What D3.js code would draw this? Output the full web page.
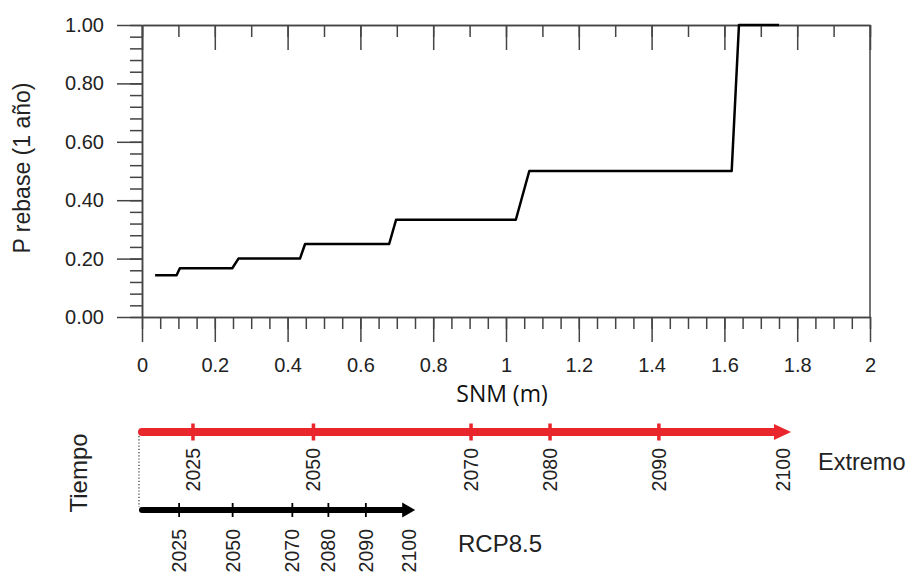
<!DOCTYPE html>
<html>
<head>
<meta charset="utf-8">
<script src="https://cdn.jsdelivr.net/npm/d3@7"></script>
<style>
  body { margin: 0; background: #fff; }
  svg { display: block; font-family: "Liberation Sans", Arial, sans-serif; }
  .axis path, .axis line { stroke: #444; stroke-width: 1.5; }
  .axis text { font-size: 20px; fill: #222; font-family: "Liberation Sans", Arial, sans-serif; }
</style>
</head>
<body>
<svg width="908" height="573"></svg>
<script>
// step curve: SNM (m) vs P rebase (1 año)
var snm  = [0.036, 0.095, 0.104, 0.248, 0.265, 0.434, 0.448, 0.679, 0.698, 1.027, 1.064, 1.620, 1.640, 1.750];
var prob = [0.143, 0.143, 0.167, 0.167, 0.200, 0.200, 0.250, 0.250, 0.333, 0.333, 0.500, 0.500, 1.000, 1.000];

var xTicks = [0, 0.2, 0.4, 0.6, 0.8, 1, 1.2, 1.4, 1.6, 1.8, 2];
var yTicks = [0, 0.2, 0.4, 0.6, 0.8, 1];

// time lines: year -> sea level reached (SNM, m)
var extremoYears = [2025, 2050, 2070, 2080, 2090, 2100];
var extremoSNM   = [0.140, 0.471, 0.904, 1.121, 1.420, 1.761];
var rcpYears     = [2025, 2050, 2070, 2080, 2090, 2100];
var rcpSNM       = [0.102, 0.249, 0.413, 0.512, 0.615, 0.734];

var svg = d3.select("svg"),
    plotL = 142, plotR = 870, plotT = 25, plotB = 317;

var x = d3.scaleLinear().domain([0, 2]).range([plotL, plotR]);
var y = d3.scaleLinear().domain([0, 1]).range([plotB, plotT]);

var fmtX = d3.format("~g");

// minor ticks first so majors draw on top
svg.append("g").attr("class", "axis")
  .attr("transform", "translate(" + plotL + ",0)")
  .call(d3.axisLeft(y).tickValues(d3.range(0, 1.001, 0.04)).tickSize(12).tickSizeOuter(0).tickFormat(""));

svg.append("g").attr("class", "axis")
  .attr("transform", "translate(" + plotL + ",0)")
  .call(d3.axisLeft(y).tickValues(yTicks).tickSize(25).tickSizeOuter(0).tickPadding(13).tickFormat(d3.format(".2f")));

svg.append("g").attr("class", "axis")
  .attr("transform", "translate(0," + plotB + ")")
  .call(d3.axisBottom(x).tickValues(d3.range(0, 2.001, 0.05)).tickSize(12).tickSizeOuter(0).tickFormat(""));

svg.append("g").attr("class", "axis")
  .attr("transform", "translate(0," + plotB + ")")
  .call(d3.axisBottom(x).tickValues(xTicks).tickSize(25).tickSizeOuter(0).tickPadding(16).tickFormat(fmtX));

// top axis, ticks pointing inward
svg.append("g").attr("class", "axis")
  .attr("transform", "translate(0," + plotT + ")")
  .call(d3.axisBottom(x).tickValues(d3.range(0, 2.001, 0.1)).tickSize(12).tickSizeOuter(0).tickFormat(""));
svg.append("g").attr("class", "axis")
  .attr("transform", "translate(0," + plotT + ")")
  .call(d3.axisBottom(x).tickValues(xTicks).tickSize(25).tickSizeOuter(0).tickFormat(""));

// right frame
svg.append("line")
  .attr("x1", plotR).attr("x2", plotR).attr("y1", plotT).attr("y2", plotB)
  .attr("stroke", "#444").attr("stroke-width", 1.5);

// the step curve
var line = d3.line()
  .x(function(d, i) { return x(snm[i]); })
  .y(function(d, i) { return y(prob[i]); });

svg.append("path")
  .attr("d", line(snm))
  .attr("fill", "none")
  .attr("stroke", "#000")
  .attr("stroke-width", 2.5)
  .attr("stroke-linejoin", "round");

// axis titles
svg.append("text")
  .attr("transform", "translate(30,168) rotate(-90)")
  .attr("text-anchor", "middle")
  .attr("font-size", 23)
  .attr("fill", "#222")
  .text("P rebase (1 año)");

svg.append("text")
  .attr("x", 502).attr("y", 402)
  .attr("text-anchor", "middle")
  .attr("font-family", "'Open Sans', sans-serif")
  .attr("font-size", 23)
  .attr("fill", "#111")
  .text("SNM (m)");

// ---- timelines ----
function timeline(years, vals, cfg) {
  var g = svg.append("g");
  var xEnd = x(vals[vals.length - 1]);
  g.append("line")
    .attr("x1", x(0)).attr("x2", xEnd - cfg.head)
    .attr("y1", cfg.y).attr("y2", cfg.y)
    .attr("stroke", cfg.color).attr("stroke-width", cfg.width)
    .attr("stroke-linecap", "round");
  g.append("path")
    .attr("d", "M" + (xEnd - cfg.head - 1) + "," + (cfg.y - cfg.hh) +
               "L" + (xEnd + cfg.head) + "," + cfg.y +
               "L" + (xEnd - cfg.head - 1) + "," + (cfg.y + cfg.hh) + "Z")
    .attr("fill", cfg.color);
  g.selectAll(".tk")
    .data(vals.slice(0, -1))
    .enter().append("line")
      .attr("x1", function(d) { return x(d); })
      .attr("x2", function(d) { return x(d); })
      .attr("y1", cfg.y - cfg.tick).attr("y2", cfg.y + cfg.tick)
      .attr("stroke", cfg.color).attr("stroke-width", cfg.tickW);
  g.selectAll(".lb")
    .data(years)
    .enter().append("text")
      .attr("transform", function(d, i) { return "translate(" + x(vals[i]) + "," + cfg.labelY + ") rotate(-90)"; })
      .attr("text-anchor", "end")
      .attr("dy", "0.36em")
      .attr("font-size", 19.5)
      .attr("fill", "#222")
      .text(function(d) { return d; });
}

timeline(extremoYears, extremoSNM, { y: 432, color: "#e8262b", width: 8, head: 8, hh: 8, tick: 8.5, tickW: 3.5, labelY: 448 });
timeline(rcpYears, rcpSNM, { y: 510, color: "#000", width: 6, head: 6, hh: 7.5, tick: 7, tickW: 1.8, labelY: 529 });

// dotted connector
svg.append("line")
  .attr("x1", 139).attr("x2", 139).attr("y1", 436).attr("y2", 507)
  .attr("stroke", "#333").attr("stroke-width", 1.2)
  .attr("stroke-dasharray", "1.2,2");

svg.append("text")
  .attr("transform", "translate(87,473) rotate(-90)")
  .attr("text-anchor", "middle")
  .attr("font-size", 24)
  .attr("fill", "#222")
  .text("Tiempo");

svg.append("text")
  .attr("x", 818).attr("y", 470)
  .attr("font-size", 23.5)
  .attr("fill", "#222")
  .text("Extremo");

svg.append("text")
  .attr("x", 458).attr("y", 552)
  .attr("font-size", 24)
  .attr("fill", "#222")
  .text("RCP8.5");
</script>
</body>
</html>
